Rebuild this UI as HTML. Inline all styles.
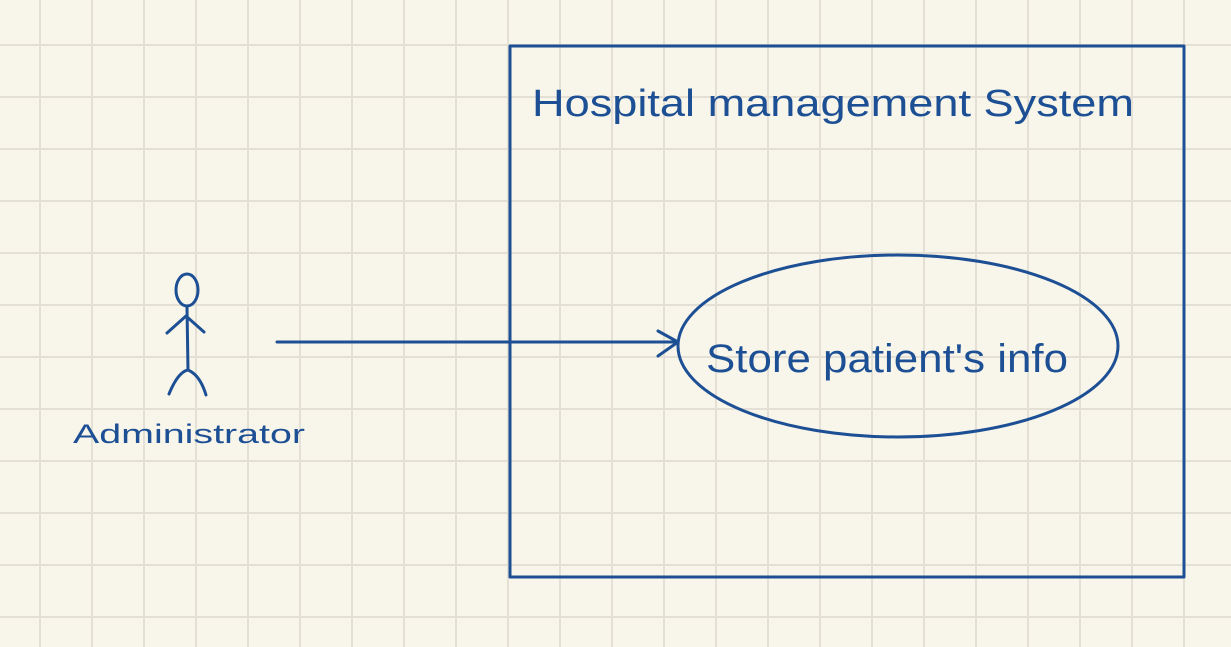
<!DOCTYPE html>
<html><head><meta charset="utf-8"><style>
html,body{margin:0;padding:0;width:1231px;height:647px;overflow:hidden;background:#f8f5ea}
</style></head><body>
<svg width="1231" height="647" xmlns="http://www.w3.org/2000/svg">
<defs>
<pattern id="g" x="39" y="44" width="52" height="52" patternUnits="userSpaceOnUse">
<rect x="0" y="0" width="2" height="52" fill="#e4e0d5"/>
<rect x="0" y="0" width="52" height="2" fill="#e4e0d5"/>
</pattern>
</defs>
<rect width="1231" height="647" fill="#f8f5ea"/>
<rect width="1231" height="647" fill="url(#g)"/>
<g stroke="#1c4f94" stroke-width="3" fill="none" stroke-linecap="round" stroke-linejoin="round">
<rect x="510" y="46" width="674" height="531"/>
<ellipse cx="898" cy="346" rx="220" ry="91"/>
<line x1="277" y1="342" x2="678" y2="342"/>
<polyline points="658,331 678,342 658,356"/>
<ellipse cx="187" cy="290" rx="11" ry="16"/>
<line x1="187" y1="307" x2="188" y2="370"/>
<path d="M167,333 L186,316 L204,332"/>
<path d="M169,394 Q178,372 188,370 Q200,375 206,395"/>
</g>
<g fill="#1c4f94" font-family="'Liberation Sans',sans-serif">
<text x="532" y="116" font-size="38" textLength="602" lengthAdjust="spacingAndGlyphs">Hospital management  System</text>
<text x="706" y="372" font-size="40" textLength="362" lengthAdjust="spacingAndGlyphs">Store patient's info</text>
<text x="73" y="443" font-size="27" textLength="232" lengthAdjust="spacingAndGlyphs">Administrator</text>
</g>
</svg>
</body></html>
